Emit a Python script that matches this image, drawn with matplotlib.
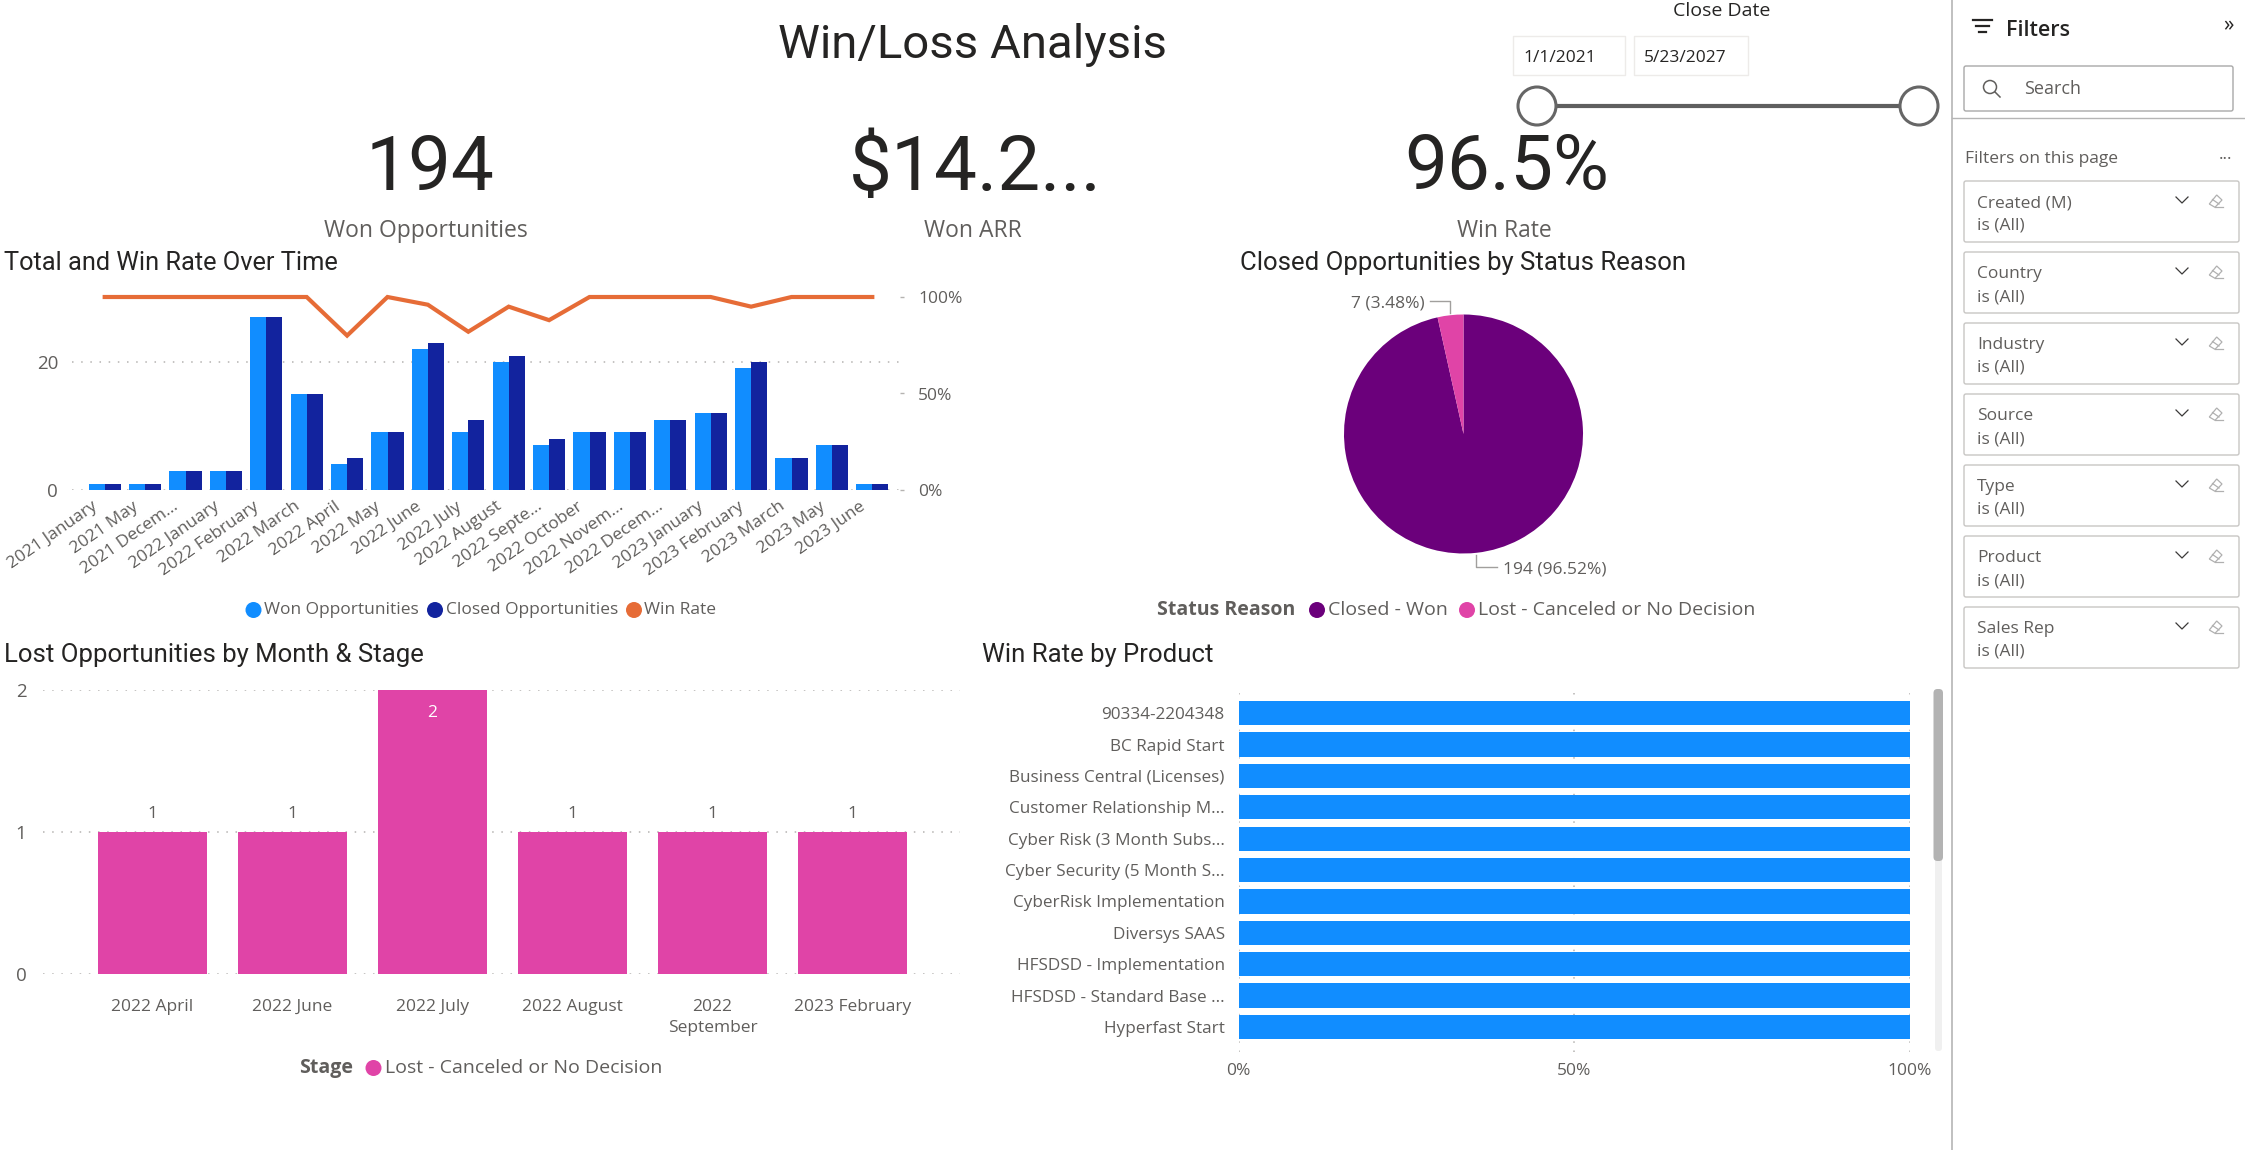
import matplotlib
matplotlib.use('Agg')
import matplotlib.pyplot as plt
from matplotlib.patches import Circle, Rectangle, FancyBboxPatch, Polygon
from matplotlib.transforms import ScaledTranslation

W, H = 2245, 1150
HEAD = 'Roboto'
BODY = 'Open Sans'
DARK = '#252423'
GREY = '#605E5C'
BLUE = '#118DFF'
NAVY = '#12239E'
ORANGE = '#E66C37'
PURPLE = '#6B007B'
PINK = '#E044A7'
GRID = '#B5B3B1'

# Total and Win Rate Over Time
months = ['2021 January', '2021 May', '2021 Decem...', '2022 January', '2022 February',
          '2022 March', '2022 April', '2022 May', '2022 June', '2022 July', '2022 August',
          '2022 Septe...', '2022 October', '2022 Novem...', '2022 Decem...', '2023 January',
          '2023 February', '2023 March', '2023 May', '2023 June']
won = [1, 1, 3, 3, 27, 15, 4, 9, 22, 9, 20, 7, 9, 9, 11, 12, 19, 5, 7, 1]
closed = [1, 1, 3, 3, 27, 15, 5, 9, 23, 11, 21, 8, 9, 9, 11, 12, 20, 5, 7, 1]
win_rate = [100, 100, 100, 100, 100, 100, 80, 100, 96, 82, 95, 88, 100, 100, 100, 100, 95, 100, 100, 100]

# Closed Opportunities by Status Reason
status_values = [194, 7]
status_colors = [PURPLE, PINK]

# Lost Opportunities by Month & Stage
lost_months = ['2022 April', '2022 June', '2022 July', '2022 August', '2022\nSeptember', '2023 February']
lost_values = [1, 1, 2, 1, 1, 1]

# Win Rate by Product
products = ['90334-2204348', 'BC Rapid Start', 'Business Central (Licenses)', 'Customer Relationship M...',
            'Cyber Risk (3 Month Subs...', 'Cyber Security (5 Month S...', 'CyberRisk Implementation',
            'Diversys SAAS', 'HFSDSD - Implementation', 'HFSDSD - Standard Base ...', 'Hyperfast Start']
product_rate = [100, 100, 100, 100, 100, 100, 100, 100, 100, 100, 100]

# Filter pane cards
filter_names = ['Created (M)', 'Country', 'Industry', 'Source', 'Type', 'Product', 'Sales Rep']


def add_axes_px(fig, x0, y0, x1, y1):
    # axes given in image pixels, y counted from the top
    return fig.add_axes([x0 / W, 1 - y1 / H, (x1 - x0) / W, (y1 - y0) / H])


def clean(ax):
    ax.patch.set_alpha(0)
    for s in ax.spines.values():
        s.set_visible(False)


def legend_row(ui, y, title, items, size=12.5):
    if title:
        ui.text(title[1], y, title[0], ha='right', va='center', fontsize=size, color=GREY,
                family=BODY, weight='bold')
    for mx, tx, color, label in items:
        ui.add_patch(Circle((mx, y), 8, color=color, lw=0))
        ui.text(tx, y, label, ha='left', va='center', fontsize=size, color=GREY, family=BODY)


fig = plt.figure(figsize=(W / 100, H / 100), dpi=100, facecolor='white')

ui = fig.add_axes([0, 0, 1, 1])
ui.set_xlim(0, W)
ui.set_ylim(H, 0)
ui.axis('off')

# header and KPIs
ui.text(973, 45, 'Win/Loss Analysis', ha='center', va='center', fontsize=34, color=DARK, family=HEAD)
for cx, value, label, lx in [(430, '194', 'Won Opportunities', 426),
                             (975, '$14.2...', 'Won ARR', 973),
                             (1507, '96.5%', 'Win Rate', 1504)]:
    ui.text(cx, 169, value, ha='center', va='center', fontsize=55, color=DARK, family=HEAD)
    ui.text(lx, 231, label, ha='center', va='center', fontsize=16.5, color=GREY, family=BODY)

# date slicer
ui.text(1722, 11, 'Close Date', ha='center', va='center', fontsize=14, color=DARK, family=BODY, weight='medium')
for x0, x1, txt in [(1513, 1625, '1/1/2021'), (1634, 1748, '5/23/2027')]:
    ui.add_patch(Rectangle((x0, 36), x1 - x0, 39, fc='white', ec='#EDEBE9', lw=1))
    ui.text(x0 + 10, 58, txt, ha='left', va='center', fontsize=12.5, color=DARK, family=BODY)
ui.plot([1537, 1919], [106, 106], color='#5F5F5F', lw=3, solid_capstyle='butt')
for cx in (1537, 1919):
    ui.add_patch(Circle((cx, 106), 19, fc='white', ec='#666666', lw=2.2, zorder=3))

# chart titles
ui.text(4, 263, 'Total and Win Rate Over Time', ha='left', va='center', fontsize=18.3, color=DARK, family=HEAD)
ui.text(1463, 263, 'Closed Opportunities by Status Reason', ha='center', va='center', fontsize=18.5, color=DARK, family=HEAD)
ui.text(4, 655, 'Lost Opportunities by Month & Stage', ha='left', va='center', fontsize=18.5, color=DARK, family=HEAD)
ui.text(982, 655, 'Win Rate by Product', ha='left', va='center', fontsize=18.5, color=DARK, family=HEAD)

# combo chart
step = 40.4
ax1 = add_axes_px(fig, 72, 297, 900, 490)
clean(ax1)
xs = list(range(len(months)))
ax1.bar([x - 0.2 for x in xs], won, width=0.4, color=BLUE, zorder=3)
ax1.bar([x + 0.2 for x in xs], closed, width=0.4, color=NAVY, zorder=3)
ax1.set_xlim((72 - 104.7) / step, (900 - 104.7) / step)
ax1.set_ylim(0, 30.15)
ax1.set_yticks([0, 20])
ax1.set_xticks(xs)
ax1.set_xticklabels(months, rotation=35, ha='right', va='top', rotation_mode='anchor',
                    fontsize=12.5, color=GREY, family=BODY)
ax1.tick_params(axis='x', length=0, pad=9)
ax1.tick_params(axis='y', length=0, pad=10, labelsize=13.5, labelcolor=GREY)
ax1.grid(axis='y', color=GRID, linestyle=(0, (1, 5)), lw=1.1, zorder=0)
ax1.set_axisbelow(True)
shift = ScaledTranslation(-13 / 100, 4 / 100, fig.dpi_scale_trans)
for t in ax1.get_xticklabels():
    t.set_transform(t.get_transform() + shift)
for t in ax1.get_yticklabels():
    t.set_family(BODY)

ax1r = ax1.twinx()
clean(ax1r)
ax1r.plot(xs, win_rate, color=ORANGE, lw=3, solid_joinstyle='miter', clip_on=False, zorder=4)
ax1r.set_ylim(0, 100)
ax1r.set_yticks([0, 50, 100])
ax1r.set_yticklabels(['0%', '50%', '100%'], fontsize=12.5, color=GREY, family=BODY)
ax1r.tick_params(axis='y', length=3, width=1, color=GRID, pad=10)

legend_row(ui, 610, None, [(253.5, 264, BLUE, 'Won Opportunities'),
                           (435, 446, NAVY, 'Closed Opportunities'),
                           (634, 644, ORANGE, 'Win Rate')])

# pie chart
ax2 = add_axes_px(fig, 1344, 314.5, 1583, 553.5)
ax2.pie(status_values, colors=status_colors, startangle=90, counterclock=False, radius=1)
ax2.set_xlim(-1, 1)
ax2.set_ylim(-1, 1)

ui.text(1425, 303, '7 (3.48%)', ha='right', va='center', fontsize=12.5, color=GREY, family=BODY)
ui.plot([1430, 1449.5, 1449.5], [301, 301, 313], color='#A19F9D', lw=1)
ui.text(1503, 569, '194 (96.52%)', ha='left', va='center', fontsize=12.5, color=GREY, family=BODY)
ui.plot([1476, 1476, 1497], [555, 567, 567], color='#A19F9D', lw=1)
legend_row(ui, 610, ('Status Reason', 1295), [(1317, 1328, PURPLE, 'Closed - Won'),
                                              (1467, 1478, PINK, 'Lost - Canceled or No Decision')], size=14)

# lost opportunities columns
step3 = 140.0
ax3 = add_axes_px(fig, 43, 690, 960, 974)
clean(ax3)
xs3 = list(range(len(lost_months)))
bars = ax3.bar(xs3, lost_values, width=0.78, color=PINK, zorder=3)
ax3.set_xlim((43 - 152.5) / step3, (960 - 152.5) / step3)
ax3.set_ylim(0, 2)
ax3.set_yticks([0, 1, 2])
ax3.set_xticks(xs3)
ax3.set_xticklabels(lost_months, fontsize=12.5, color=GREY, family=BODY, linespacing=1.45)
ax3.tick_params(axis='x', length=0, pad=18)
ax3.tick_params(axis='y', length=0, pad=12, labelsize=13.5, labelcolor=GREY)
ax3.grid(axis='y', color=GRID, linestyle=(0, (1, 5)), lw=1.1, zorder=0)
ax3.set_axisbelow(True)
for t in ax3.get_yticklabels():
    t.set_family(BODY)
for x, v in zip(xs3, lost_values):
    if v == 2:
        ax3.annotate(str(v), (x, v), xytext=(0, -23), textcoords='offset pixels', ha='center', va='center',
                     fontsize=12.5, color='white', family=BODY, zorder=5)
    else:
        ax3.annotate(str(v), (x, v), xytext=(0, 18), textcoords='offset pixels', ha='center', va='center',
                     fontsize=12.5, color=GREY, family=BODY, zorder=5)

legend_row(ui, 1068, ('Stage', 353), [(373.5, 385, PINK, 'Lost - Canceled or No Decision')], size=14)

# win rate by product bars
step4 = 31.38
ax4 = add_axes_px(fig, 1238.7, 693, 1910, 1052)
clean(ax4)
ys = list(range(len(products)))
ax4.barh(ys, product_rate, height=0.775, color=BLUE, zorder=3)
ax4.set_xlim(0, 100)
ax4.set_ylim((1052 - 713.2) / step4, (693 - 713.2) / step4)
ax4.set_yticks(ys)
ax4.set_yticklabels(products, fontsize=12.3, color=GREY, family=BODY)
ax4.set_xticks([0, 50, 100])
ax4.set_xticklabels(['0%', '50%', '100%'], fontsize=12.5, color=GREY, family=BODY)
ax4.tick_params(axis='both', length=0)
ax4.tick_params(axis='y', pad=10)
ax4.tick_params(axis='x', pad=8)
ax4.grid(axis='x', color=GRID, linestyle=(0, (1, 5)), lw=1.1, zorder=0)
ax4.set_axisbelow(True)

# scrollbar
ui.add_patch(FancyBboxPatch((1935, 691), 7, 360, boxstyle='round,pad=0,rounding_size=3', fc='#F0F0F0', ec='none'))
ui.add_patch(FancyBboxPatch((1933.5, 689), 9.5, 172, boxstyle='round,pad=0,rounding_size=4', fc='#B3B3B3', ec='none'))

# filter pane
ui.plot([1951.5, 1951.5], [0, H], color='#B5B5B5', lw=1.2)
ui.plot([1951.5, W], [118, 118], color='#B5B5B5', lw=1)
for y, x0, x1 in [(20, 1973, 1992), (26, 1976, 1989), (32, 1979, 1986)]:
    ui.plot([x0, x1], [y, y], color=DARK, lw=1.6)
ui.text(2006, 30, 'Filters', ha='left', va='center', fontsize=15.5, color=DARK, family=BODY, weight='semibold')
ui.text(2228, 26, '»', ha='center', va='center', fontsize=15, color=DARK, family=BODY)

ui.add_patch(FancyBboxPatch((1964, 66), 269, 45, boxstyle='round,pad=0,rounding_size=2', fc='white', ec='#A8A8A8', lw=1))
ui.add_patch(Circle((1990, 87), 6.5, fc='none', ec=GREY, lw=1.1))
ui.plot([1995, 2000], [92, 97], color=GREY, lw=1.1)
ui.text(2024, 89, 'Search', ha='left', va='center', fontsize=13, color=GREY, family=BODY)

ui.text(1965, 159, 'Filters on this page', ha='left', va='center', fontsize=12.5, color=GREY, family=BODY)
ui.text(2225, 155, '...', ha='center', va='center', fontsize=12.5, color=GREY, family=BODY)

for i, name in enumerate(filter_names):
    top = 181 + 71 * i
    ui.add_patch(FancyBboxPatch((1964, top), 275, 61, boxstyle='round,pad=0,rounding_size=2', fc='white', ec='#C8C6C4', lw=1))
    ui.text(1977, top + 22, name, ha='left', va='center', fontsize=12.5, color=GREY, family=BODY)
    ui.text(1977, top + 45, 'is (All)', ha='left', va='center', fontsize=12.5, color=GREY, family=BODY)
    ui.plot([2176, 2182, 2188], [top + 16, top + 22, top + 16], color='#3B3A39', lw=0.9)
    ui.add_patch(Polygon([(2209.3, top + 23), (2216.7, top + 14), (2222, top + 19), (2215, top + 26.3)],
                         closed=True, fc='white', ec='#B0B0B0', lw=0.9))
    ui.plot([2212.5, 2219], [top + 18.5, top + 23], color='#B0B0B0', lw=0.9)
    ui.plot([2215, 2223], [top + 26.3, top + 26.3], color='#B0B0B0', lw=0.9)

fig.savefig('out.png', dpi=100, facecolor='white')
